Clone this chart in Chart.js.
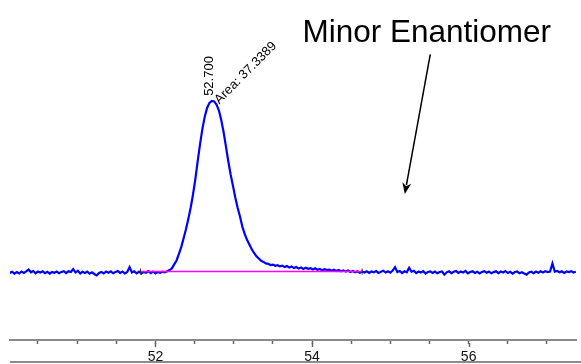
<!DOCTYPE html>
<html>
<head>
<meta charset="utf-8">
<script src="https://cdn.jsdelivr.net/npm/chart.js@4.4.1/dist/chart.umd.min.js"></script>
<style>
  html, body { margin: 0; padding: 0; background: #fff; }
  #wrap { position: relative; width: 581px; height: 364px; }
  #frame { position: absolute; left: 10px; top: 361px; width: 571px; border-top: 2px solid #8c8c8c; }
</style>
</head>
<body>
<div id="wrap">
  <canvas id="myChart" width="581" height="364"></canvas>
  <div id="frame"></div>
</div>
<script>
// Chromatogram trace (min vs. detector signal), sampled every 0.03 min
const sampleStart = 50.14;
const sampleStep = 0.03;

// 50.14 - 52.15 min, flat baseline before the peak
const signalBefore = [
  -0.05, 0.08, -0.12, 0.05, -0.1, 0.1, -0.04, 0.12, 0.3, 0.02,
  0.15, -0.08, 0.1, 0.0, 0.12, -0.06, 0.08, -0.12, 0.05, -0.02,
  0.1, -0.08, 0.06, 0.14, -0.05, 0.12, 0.05, 0.35, 0.0, 0.18,
  -0.1, 0.08, -0.04, 0.1, -0.12, 0.02, -0.15, -0.3, -0.05, 0.06,
  -0.1, 0.1, -0.02, 0.12, -0.08, 0.05, 0.15, -0.04, 0.1, -0.1,
  0.05, 0.55, 0.0, 0.12, -0.08, 0.08, -0.12, 0.06, -0.02, 0.14,
  -0.06, 0.1, -0.1, 0.05, -0.04, 0.08, 0.02, 0.12
];

// 52.18 - 54.64 min, the main peak and its tail
const signalPeak = [
  0.25, 0.42, 0.82, 1.22, 1.88, 2.58, 3.48, 4.38, 5.42, 6.58,
  7.92, 9.48, 11.3, 13.02, 14.58, 15.82, 16.7, 17.22, 17.42, 17.36,
  17.04, 16.46, 15.5, 14.28, 12.82, 11.32, 9.98, 8.8, 7.62, 6.58,
  5.68, 4.66, 3.92, 3.32, 2.84, 2.36, 1.98, 1.64, 1.42, 1.18,
  1.08, 0.92, 0.88, 0.76, 0.8, 0.68, 0.74, 0.62,
  0.7, 0.55, 0.66, 0.5, 0.6, 0.45, 0.56, 0.4, 0.5, 0.36,
  0.48, 0.38, 0.45, 0.3, 0.42, 0.28, 0.36, 0.22, 0.34, 0.25,
  0.3, 0.18, 0.28, 0.15, 0.25, 0.12, 0.22, 0.1, 0.2, 0.05,
  0.15, 0.02, 0.12, -0.02, 0.1
];

// 54.67 - 57.37 min, baseline after the peak
const signalAfter = [
  0.0, 0.12, -0.05, 0.1, 0.02, 0.15, -0.04, 0.08, 0.18, 0.0,
  0.12, -0.02, 0.2, 0.55, 0.05, 0.15, -0.05, 0.12, 0.02, 0.48,
  0.08, 0.18, -0.06, 0.1, 0.0, 0.14, -0.1, 0.06, 0.12, -0.04,
  0.1, -0.08, 0.05, 0.1, -0.22, 0.02, 0.12, -0.06, 0.08, 0.15,
  -0.04, 0.1, 0.0, 0.16, -0.08, 0.05, 0.12, -0.05, 0.08, -0.1,
  0.06, 0.14, -0.02, 0.1, -0.08, 0.04, 0.12, -0.06, 0.1, 0.0,
  0.15, -0.05, 0.08, -0.12, 0.05, 0.1, -0.08, 0.02, -0.1, -0.22,
  0.0, 0.08, -0.06, 0.1, -0.02, 0.12, 0.0, 0.14, 0.05, 0.1,
  0.92, 0.08, 0.15, 0.02, 0.12, -0.04, 0.1, 0.05, 0.14, 0.0,
  0.08
];

// integration baseline drawn under the peak
const baselineTimes = [51.81, 54.64];
const baselineLevels = [0.1, 0.1];

const majorTicks = [52, 54, 56];
const peakLabels = ['52.700', 'Area: 37.3389'];
const noteText = 'Minor Enantiomer';

const signal = signalBefore.concat(signalPeak, signalAfter);
const trace = signal.map((v, i) => ({ x: +(sampleStart + i * sampleStep).toFixed(2), y: v }));
const baseline = baselineTimes.map((t, i) => ({ x: t, y: baselineLevels[i] }));

const FONT = '"Liberation Sans", Arial, Helvetica, sans-serif';

// annotation place, in data units (min, signal)
const note = { textAt: [53.877, 23.35], arrowFrom: [55.51, 22.15], arrowTo: [55.185, 7.98] };

const peakNotes = {
  id: 'peakNotes',
  afterDraw(chart) {
    const ctx = chart.ctx;
    const xs = chart.scales.x, ys = chart.scales.y;
    const area = chart.chartArea;

    // longer marks for the labelled ticks
    ctx.save();
    ctx.strokeStyle = '#666';
    ctx.lineWidth = 1.5;
    majorTicks.forEach(v => {
      const px = Math.round(xs.getPixelForValue(v)) + 0.5;
      ctx.beginPath();
      ctx.moveTo(px, area.bottom + 3);
      ctx.lineTo(px, area.bottom + 7);
      ctx.stroke();
    });
    ctx.restore();

    // retention time and area at the apex
    let top = trace[0];
    trace.forEach(p => { if (p.y > top.y) top = p; });
    const ax = xs.getPixelForValue(top.x);
    const ay = ys.getPixelForValue(top.y);

    ctx.save();
    ctx.fillStyle = '#000';
    ctx.font = '13px ' + FONT;
    ctx.textAlign = 'left';
    ctx.textBaseline = 'middle';
    ctx.translate(ax - 2.5, ay - 5);
    ctx.rotate(-Math.PI / 2);
    ctx.fillText(peakLabels[0], 0, 0);
    ctx.restore();

    ctx.save();
    ctx.fillStyle = '#000';
    ctx.font = '13px ' + FONT;
    ctx.textAlign = 'left';
    ctx.textBaseline = 'middle';
    ctx.translate(ax + 5, ay + 1);
    ctx.rotate(-Math.PI / 4);
    ctx.fillText(peakLabels[1], 0, 0);
    ctx.restore();

    // "Minor Enantiomer" with arrow
    ctx.save();
    ctx.fillStyle = '#000';
    ctx.font = '31.5px ' + FONT;
    ctx.textAlign = 'left';
    ctx.textBaseline = 'alphabetic';
    ctx.fillText(noteText, xs.getPixelForValue(note.textAt[0]), ys.getPixelForValue(note.textAt[1]));

    const x1 = xs.getPixelForValue(note.arrowFrom[0]), y1 = ys.getPixelForValue(note.arrowFrom[1]);
    const x2 = xs.getPixelForValue(note.arrowTo[0]), y2 = ys.getPixelForValue(note.arrowTo[1]);
    const ang = Math.atan2(y2 - y1, x2 - x1);
    const head = 11, half = 4.5;
    ctx.strokeStyle = '#000';
    ctx.lineWidth = 1.5;
    ctx.beginPath();
    ctx.moveTo(x1, y1);
    ctx.lineTo(x2 - Math.cos(ang) * head * 0.8, y2 - Math.sin(ang) * head * 0.8);
    ctx.stroke();
    ctx.beginPath();
    ctx.moveTo(x2, y2);
    ctx.lineTo(x2 - Math.cos(ang) * head - Math.sin(ang) * half, y2 - Math.sin(ang) * head + Math.cos(ang) * half);
    ctx.lineTo(x2 - Math.cos(ang) * head * 0.7, y2 - Math.sin(ang) * head * 0.7);
    ctx.lineTo(x2 - Math.cos(ang) * head + Math.sin(ang) * half, y2 - Math.sin(ang) * head - Math.cos(ang) * half);
    ctx.closePath();
    ctx.fill();
    ctx.restore();
  }
};

var ctx = document.getElementById('myChart').getContext('2d');

var myChart = new Chart(ctx, {
  type: 'line',
  data: {
    datasets: [{
      label: 'Signal',
      data: trace,
      borderColor: '#0000ff',
      borderWidth: 2.2,
      pointRadius: 0,
      tension: 0,
      order: 2
    }, {
      label: 'Baseline',
      data: baseline,
      borderColor: '#ff00ff',
      borderWidth: 1.5,
      pointRadius: 0,
      order: 1
    }, {
      type: 'scatter',
      label: 'Baseline ends',
      data: baseline,
      pointStyle: 'line',
      rotation: 90,
      radius: 3,
      borderColor: '#333',
      borderWidth: 1,
      order: 0
    }]
  },
  options: {
    responsive: false,
    animation: false,
    layout: { padding: { left: 10, right: 0, top: 0, bottom: 0 } },
    plugins: { legend: { display: false }, tooltip: { enabled: false } },
    scales: {
      x: {
        type: 'linear',
        position: 'bottom',
        min: 50.143,
        max: 57.371,
        afterFit(scale) { scale.height = 24; },
        border: { display: true, color: '#8a8a8a', width: 2 },
        grid: { drawOnChartArea: false, drawTicks: true, tickLength: 4, tickColor: '#666', tickWidth: 1.5 },
        ticks: {
          stepSize: 0.5,
          includeBounds: false,
          autoSkip: false,
          maxRotation: 0,
          padding: 5,
          color: '#111',
          font: { family: FONT, size: 14 },
          callback: v => majorTicks.includes(v) ? String(v) : ''
        }
      },
      y: {
        display: false,
        min: -6.85,
        max: 27.15
      }
    }
  },
  plugins: [peakNotes]
});
</script>
</body>
</html>
